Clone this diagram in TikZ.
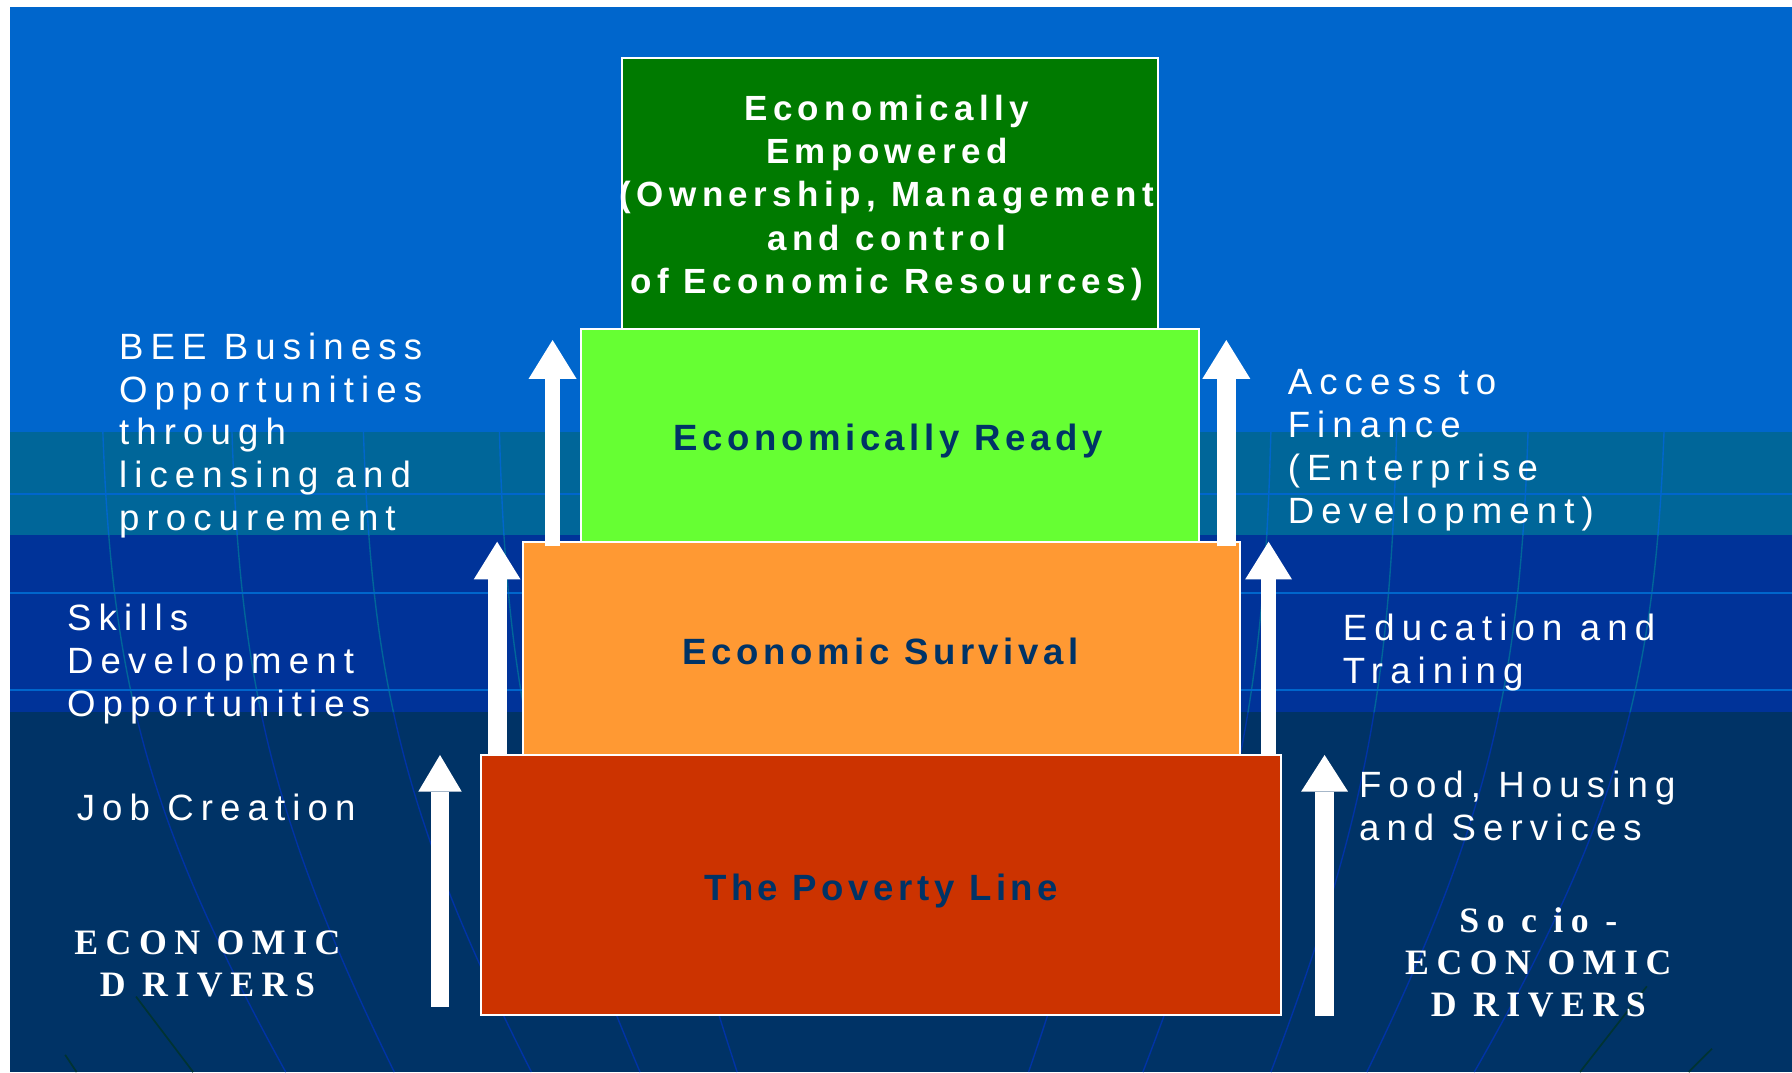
\documentclass[tikz,border=0pt]{standalone}
\usepackage{fontspec}
\setmainfont{Liberation Sans}
\newfontfamily\sidefont[LetterSpace=19.5]{Liberation Sans}
\newfontfamily\tierfont[LetterSpace=12.5]{Liberation Sans}
\newfontfamily\topfont[LetterSpace=15.5]{Liberation Sans}
\newfontfamily\driverfont[LetterSpace=21]{Liberation Serif}
\usetikzlibrary{arrows.meta}

\definecolor{bgblue}{HTML}{0066CC}
\definecolor{bgteal}{HTML}{006699}
\definecolor{bgdark}{HTML}{003399}
\definecolor{bgnavy}{HTML}{003366}
\definecolor{meridblue}{HTML}{0033A6}
\definecolor{darkline}{HTML}{003333}
\definecolor{boxgreen}{HTML}{007A00}
\definecolor{boxlime}{HTML}{66FF33}
\definecolor{boxorange}{HTML}{FF9933}
\definecolor{boxred}{HTML}{CC3300}
\definecolor{labelnavy}{HTML}{003366}

% globe meridians of the background
\newcommand\globemeridians{%
  \foreach \xa/\xb in {90/250,203/345,318/465,437/560,550/645,1000/900,1112/1000,1222/1112,1337/1196,1456/1290}{
    \draw (\xa,378) .. controls ({\xa+0.05*(\xb-\xa)},600) and ({\xa+0.25*(\xb-\xa)},720) .. (\xb,938);
  }}

% multi-line nodes are placed by the baseline of their last line
\tikzset{
  tier/.style={draw=white, line width=1.8pt, rectangle, inner sep=0pt},
  tierlabel/.style={text=labelnavy, inner sep=0pt, anchor=base,
    font=\tierfont\fontsize{32}{38}\selectfont\bfseries},
  toplabel/.style={text=white, inner sep=0pt, align=center,
    font=\topfont\fontsize{30.6}{37.9}\selectfont\bfseries},
  sidetext/.style={text=white, inner sep=0pt, align=left, anchor=base west,
    font=\sidefont\fontsize{32}{37.5}\selectfont},
  drivertext/.style={text=white, inner sep=0pt, align=center, anchor=base,
    font=\driverfont\fontsize{31.3}{36.4}\selectfont\bfseries},
  uparrow/.style n args={3}{draw=white, line width=#1,
    -{Triangle[width=#2, length=#3, line width=0pt]}},
}

\begin{document}
\begin{tikzpicture}[x=1pt,y=-1pt]
\useasboundingbox (0,0) rectangle (1568,938);
\fill[white] (0,0) rectangle (1568,938);

% background bands
\fill[bgblue] (8.75,5.8) rectangle (1568,378);
\fill[bgteal] (8.75,378) rectangle (1568,468.5);
\fill[bgdark] (8.75,468.5) rectangle (1568,623);
\fill[bgnavy] (8.75,623) rectangle (1568,938);

% meridians, tinted per band
\begin{scope}
  \clip (8.75,378) rectangle (1568,468.5);
  \begin{scope}[color=bgblue, line width=1.2pt]\globemeridians\end{scope}
\end{scope}
\begin{scope}
  \clip (8.75,468.5) rectangle (1568,623);
  \begin{scope}[color=bgteal, line width=1.2pt]\globemeridians\end{scope}
\end{scope}
\begin{scope}
  \clip (8.75,623) rectangle (1568,938);
  \begin{scope}[color=meridblue, line width=1.2pt]\globemeridians\end{scope}
\end{scope}

% parallels
\draw[bgblue, line width=2pt] (8.75,432) -- (1568,432);
\draw[bgblue, line width=2pt] (8.75,519) -- (1568,519);
\draw[bgblue, line width=2pt] (8.75,604) -- (1568,604);

% dark strokes near the bottom
\draw[darkline, line width=1.5pt] (119,872) -- (169,938);
\draw[darkline, line width=1.5pt] (57,923) -- (67,938);
\draw[darkline, line width=1.5pt] (1441,863) -- (1382.5,938);
\draw[darkline, line width=1.5pt] (1498,917.6) -- (1477.5,938);

% the four tiers
\node[tier, fill=boxred, minimum width=700pt, minimum height=227pt] (poverty) at (771,774.5) {};
\node[tier, fill=boxorange, minimum width=627pt, minimum height=187pt] (survival) at (771.5,567.5) {};
\node[tier, fill=boxlime, minimum width=541pt, minimum height=186pt] (ready) at (778.5,381) {};
\node[tier, fill=boxgreen, minimum width=469pt, minimum height=237pt] (empowered) at (778.5,169.5) {};

\node[tierlabel] (povertytxt) at (771,787.5) {The Poverty Line};
\node[tierlabel] (survivaltxt) at (770.5,581) {Economic Survival};
\node[tierlabel] (readytxt) at (777,393.75) {Economically Ready};
\node[toplabel] (empoweredtxt) at (776,173) {Economically\\Empowered\\(Ownership, Management\\and control\\of Economic Resources)};

% arrow end points
\coordinate (la1b) at (483.5,478);   \coordinate (la1t) at (483.5,297.5);
\coordinate (la2b) at (435,661);     \coordinate (la2t) at (435,474);
\coordinate (la3b) at (385,881);     \coordinate (la3t) at (385,660.6);
\coordinate (ra1b) at (1073,478);    \coordinate (ra1t) at (1073,297.5);
\coordinate (ra2b) at (1110,661);    \coordinate (ra2t) at (1110,474);
\coordinate (ra3b) at (1159,889);    \coordinate (ra3t) at (1159,660.6);

\draw[uparrow={13.5pt}{42pt}{34pt}] (la1b) -- (la1t);
\draw[uparrow={16.5pt}{41pt}{33pt}] (la2b) -- (la2t);
\draw[uparrow={16pt}{38pt}{32pt}] (la3b) -- (la3t);
\draw[uparrow={16.5pt}{42pt}{34pt}] (ra1b) -- (ra1t);
\draw[uparrow={13.5pt}{41pt}{33pt}] (ra2b) -- (ra2t);
\draw[uparrow={16.5pt}{41pt}{32pt}] (ra3b) -- (ra3t);

% side captions
\node[sidetext] (bee) at (104,464.3) {BEE Business\\Opportunities\\through\\licensing and\\procurement};
\node[sidetext] (skills) at (58.6,626.5) {Skills\\Development\\Opportunities};
\node[sidetext] (jobs) at (67,717.5) {Job Creation};
\node[sidetext] (finance) at (1126.6,457.9) {Access to\\Finance\\(Enterprise\\Development)};
\node[sidetext] (education) at (1174.8,598) {Education and\\Training};
\node[sidetext] (food) at (1189,735.6) {Food, Housing\\and Services};

\node[drivertext] (ecodrivers) at (181.5,871.5) {ECON OMIC\\D RIVERS};
\node[drivertext] (sociodrivers) at (1346,889) {So c io -\\ECON OMIC\\D RIVERS};
\end{tikzpicture}
\end{document}
